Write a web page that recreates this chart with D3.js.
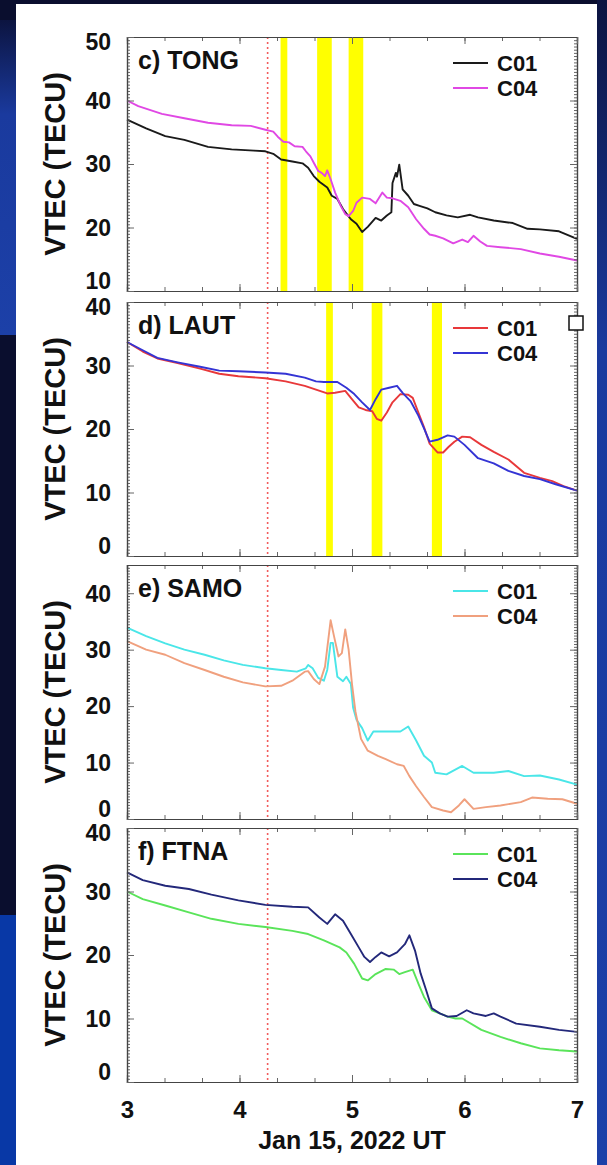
<!DOCTYPE html>
<html>
<head>
<meta charset="utf-8">
<script src="https://cdn.jsdelivr.net/npm/d3@7"></script>
<style>
  body { margin: 0; background: #0a0e2e; }
  svg { display: block; font-family: "Liberation Sans", Arial, Helvetica, sans-serif; font-weight: bold; }
</style>
</head>
<body>
<svg id="chart" width="607" height="1165"></svg>
<script>
// ---- data (hours UT on Jan 15 2022, VTEC in TECU) ----
const xTicks = [3, 4, 5, 6, 7];
const eventHour = 4.25;

const tongC01 = [[3.0,37.0],[3.17,35.6],[3.34,34.4],[3.51,33.8],[3.72,32.7],[3.93,32.3],[4.13,32.1],[4.23,32.0],[4.30,31.6],[4.37,30.7],[4.47,30.4],[4.56,30.1],[4.61,29.4],[4.66,28.1],[4.71,27.2],[4.78,26.3],[4.82,25.0],[4.87,24.5],[4.92,22.9],[4.99,21.3],[5.04,20.6],[5.09,19.3],[5.14,20.1],[5.21,21.5],[5.26,21.1],[5.31,21.9],[5.35,22.4],[5.36,27.0],[5.39,28.6],[5.40,28.0],[5.42,29.9],[5.45,26.0],[5.50,25.0],[5.55,23.7],[5.60,23.4],[5.67,23.0],[5.74,22.4],[5.84,21.9],[5.94,21.6],[6.05,22.0],[6.12,21.6],[6.26,21.1],[6.43,20.7],[6.56,19.8],[6.67,19.7],[6.84,19.4],[7.0,18.2]];
const tongC04 = [[3.0,40.0],[3.10,39.1],[3.31,37.9],[3.51,37.2],[3.72,36.5],[3.93,36.1],[4.10,36.0],[4.23,35.4],[4.30,35.1],[4.34,34.3],[4.39,33.5],[4.44,33.4],[4.49,32.8],[4.56,32.7],[4.59,32.0],[4.63,31.2],[4.66,30.2],[4.70,28.9],[4.73,28.6],[4.76,28.1],[4.78,29.0],[4.81,27.6],[4.85,25.5],[4.90,23.4],[4.94,22.1],[4.97,21.8],[5.01,22.6],[5.04,23.9],[5.09,24.7],[5.16,24.5],[5.21,23.8],[5.27,25.5],[5.31,24.7],[5.36,24.6],[5.43,24.2],[5.50,23.2],[5.57,21.3],[5.64,19.8],[5.69,18.9],[5.74,18.7],[5.81,18.3],[5.90,17.5],[5.98,18.1],[6.03,17.7],[6.08,18.7],[6.14,17.8],[6.20,17.1],[6.32,16.9],[6.50,16.6],[6.67,15.9],[6.84,15.4],[7.0,14.8]];

const lautC01 = [[3.0,33.7],[3.14,32.2],[3.27,31.1],[3.45,30.4],[3.65,29.5],[3.82,28.7],[3.99,28.3],[4.23,28.0],[4.41,27.5],[4.58,26.8],[4.68,26.2],[4.78,25.6],[4.85,25.7],[4.94,26.0],[4.99,24.9],[5.06,23.4],[5.12,23.0],[5.18,22.8],[5.22,21.6],[5.26,21.3],[5.31,22.6],[5.36,24.2],[5.43,25.5],[5.50,25.4],[5.54,24.9],[5.59,22.6],[5.64,20.3],[5.69,17.7],[5.76,16.3],[5.81,16.3],[5.86,17.2],[5.91,18.0],[5.98,18.8],[6.05,18.7],[6.15,17.5],[6.26,16.4],[6.39,15.2],[6.53,13.1],[6.67,12.3],[6.78,11.8],[6.88,11.0],[7.0,10.3]];
const lautC04 = [[3.0,33.7],[3.14,32.4],[3.27,31.2],[3.45,30.5],[3.65,29.8],[3.82,29.2],[3.99,29.1],[4.23,28.9],[4.41,28.7],[4.58,28.1],[4.68,27.5],[4.75,27.4],[4.87,27.4],[4.95,26.5],[5.02,25.5],[5.09,24.2],[5.16,23.0],[5.21,24.7],[5.26,26.2],[5.33,26.5],[5.40,26.8],[5.45,25.7],[5.52,24.4],[5.59,22.1],[5.64,20.1],[5.69,18.0],[5.76,18.3],[5.85,19.0],[5.91,18.8],[6.00,17.5],[6.12,15.4],[6.26,14.6],[6.39,13.4],[6.53,12.6],[6.67,12.1],[6.81,11.3],[7.0,10.3]];

const samoC01 = [[3.0,33.9],[3.17,32.4],[3.34,31.1],[3.51,30.0],[3.69,29.1],[3.86,28.1],[4.03,27.3],[4.23,26.7],[4.37,26.4],[4.51,26.1],[4.59,26.7],[4.61,27.3],[4.65,26.7],[4.70,25.0],[4.75,24.5],[4.78,26.4],[4.81,31.2],[4.83,31.2],[4.87,25.2],[4.92,24.4],[4.95,25.2],[4.99,23.9],[5.01,19.7],[5.04,17.6],[5.09,16.1],[5.14,13.9],[5.19,15.5],[5.30,15.5],[5.43,15.5],[5.50,16.4],[5.57,13.9],[5.64,11.2],[5.71,10.0],[5.74,8.2],[5.84,7.9],[5.98,9.4],[6.08,8.2],[6.26,8.2],[6.39,8.5],[6.53,7.6],[6.67,7.7],[6.84,7.0],[7.0,6.1]];
const samoC04 = [[3.0,31.5],[3.17,30.0],[3.34,29.1],[3.51,27.6],[3.69,26.4],[3.86,25.2],[4.03,24.2],[4.23,23.5],[4.37,23.6],[4.47,24.5],[4.58,26.1],[4.61,26.2],[4.66,24.8],[4.71,23.9],[4.76,27.0],[4.81,35.2],[4.84,32.4],[4.88,28.8],[4.91,29.4],[4.94,33.6],[4.97,30.0],[5.00,23.9],[5.03,19.1],[5.08,14.2],[5.14,12.1],[5.23,11.2],[5.30,10.6],[5.40,9.7],[5.46,9.4],[5.51,7.6],[5.57,5.8],[5.64,3.9],[5.71,2.1],[5.81,1.5],[5.88,1.2],[5.95,2.4],[6.00,3.5],[6.08,1.8],[6.19,2.1],[6.32,2.4],[6.50,3.0],[6.60,3.8],[6.74,3.6],[6.87,3.5],[7.0,2.7]];

const ftnaC01 = [[3.0,30.0],[3.14,28.8],[3.34,27.8],[3.55,26.7],[3.75,25.7],[3.99,24.9],[4.23,24.4],[4.47,23.8],[4.61,23.3],[4.75,22.3],[4.89,21.2],[4.95,20.4],[5.02,18.6],[5.09,16.3],[5.14,16.0],[5.21,17.0],[5.30,17.8],[5.37,17.7],[5.42,17.0],[5.47,17.3],[5.54,17.7],[5.59,15.5],[5.64,13.4],[5.71,11.3],[5.78,10.8],[5.85,10.3],[5.92,10.0],[5.98,10.0],[6.15,8.2],[6.32,7.1],[6.50,6.1],[6.67,5.3],[6.84,5.0],[7.0,4.8]];
const ftnaC04 = [[3.0,33.0],[3.14,31.8],[3.34,30.9],[3.55,30.4],[3.75,29.5],[3.99,28.6],[4.23,27.9],[4.47,27.6],[4.61,27.5],[4.71,25.9],[4.78,24.9],[4.85,26.4],[4.92,25.4],[4.99,23.3],[5.06,21.2],[5.11,19.7],[5.16,18.9],[5.21,19.7],[5.26,20.4],[5.33,19.8],[5.40,20.4],[5.47,21.7],[5.51,23.1],[5.56,20.7],[5.61,17.1],[5.66,14.4],[5.71,11.6],[5.78,10.8],[5.85,10.3],[5.93,10.4],[6.02,11.3],[6.08,10.8],[6.19,10.4],[6.26,10.8],[6.32,10.3],[6.46,9.2],[6.67,8.7],[6.84,8.2],[7.0,7.9]];

// shaded intervals (hours)
const tongBands = [[4.365, 4.425], [4.69, 4.82], [4.97, 5.10]];
const lautBands = [[4.77, 4.83], [5.175, 5.27], [5.71, 5.80]];

const panels = [
  { label: "c) TONG", yDomain: [10, 50], yTicks: [10, 20, 30, 40, 50], series: [tongC01, tongC04], colors: ["#1a1a1a", "#e048e4"], bands: tongBands },
  { label: "d) LAUT", yDomain: [0, 40], yTicks: [0, 10, 20, 30, 40], series: [lautC01, lautC04], colors: ["#e8383a", "#3434d4"], bands: lautBands },
  { label: "e) SAMO", yDomain: [0, 45], yTicks: [0, 10, 20, 30, 40], series: [samoC01, samoC04], colors: ["#4ae6e8", "#f0a07e"], bands: [] },
  { label: "f) FTNA", yDomain: [0, 40], yTicks: [0, 10, 20, 30, 40], series: [ftnaC01, ftnaC04], colors: ["#5ae45a", "#23287a"], bands: [] }
];
const legendNames = ["C01", "C04"];

// ---- layout ----
const svg = d3.select("#chart");
const left = 127, right = 577;
const panelTops = [37, 302, 565, 828], panelH = 254;

// slide background bits
const defs = svg.append("defs");
const g1 = defs.append("linearGradient").attr("id", "lg1").attr("x1", 0).attr("y1", 0).attr("x2", 0).attr("y2", 1);
g1.append("stop").attr("offset", "0%").attr("stop-color", "#0c1440");
g1.append("stop").attr("offset", "30%").attr("stop-color", "#1a3a9e");
g1.append("stop").attr("offset", "100%").attr("stop-color", "#1c40a8");
svg.append("rect").attr("x", 0).attr("y", 20).attr("width", 16).attr("height", 315).attr("fill", "url(#lg1)");
svg.append("rect").attr("x", 0).attr("y", 915).attr("width", 16).attr("height", 250).attr("fill", "#0838a6");
svg.append("rect").attr("x", 597).attr("y", 0).attr("width", 10).attr("height", 1165).attr("fill", "url(#lg1)");
svg.append("rect").attr("x", 16).attr("y", 4).attr("width", 581).attr("height", 1161).attr("fill", "#fff");

const x = d3.scaleLinear().domain([3, 7]).range([left, right]);
const xMinor = d3.range(3, 7.001, 1 / 3);

panels.forEach((p, i) => {
  const top = panelTops[i], bottom = top + panelH;
  const y = d3.scaleLinear().domain(p.yDomain).range([bottom, top]);
  const g = svg.append("g");

  // yellow intervals
  g.selectAll("rect.band").data(p.bands).enter().append("rect")
    .attr("x", d => x(d[0])).attr("width", d => x(d[1]) - x(d[0]))
    .attr("y", top).attr("height", panelH)
    .attr("fill", "#ffff00");

  // event time marker
  g.append("line")
    .attr("x1", x(eventHour)).attr("x2", x(eventHour))
    .attr("y1", top).attr("y2", bottom)
    .attr("stroke", "#f25c5c").attr("stroke-width", 1.6).attr("stroke-dasharray", "2,3");

  // series
  const line = d3.line().x(d => x(d[0])).y(d => y(d[1]));
  p.series.forEach((s, k) => {
    g.append("path").datum(s).attr("d", line)
      .attr("fill", "none").attr("stroke", p.colors[k]).attr("stroke-width", 1.9)
      .attr("stroke-linejoin", "round");
  });

  // axes: ticks point inward on all sides
  const yMinor = d3.range(p.yDomain[0], p.yDomain[1] + 0.001, 0.5);
  const axStyle = sel => sel.call(a => a.select(".domain").attr("stroke", "#444").attr("stroke-width", 1.2))
    .call(a => a.selectAll(".tick line").attr("stroke", "#666"));

  g.append("g").attr("transform", `translate(${left},0)`)
    .call(d3.axisLeft(y).tickValues(yMinor).tickSize(-3).tickFormat("")).call(axStyle);
  g.append("g").attr("transform", `translate(${right},0)`)
    .call(d3.axisRight(y).tickValues(yMinor).tickSize(-3).tickFormat("")).call(axStyle);
  g.append("g").attr("transform", `translate(${right},0)`)
    .call(d3.axisRight(y).tickValues(p.yTicks).tickSize(-7).tickFormat("")).call(axStyle);
  g.append("g").attr("transform", `translate(0,${top})`)
    .call(d3.axisTop(x).tickValues(xMinor).tickSize(-4).tickFormat("")).call(axStyle);
  g.append("g").attr("transform", `translate(0,${top})`)
    .call(d3.axisTop(x).tickValues(xTicks).tickSize(-7).tickFormat("")).call(axStyle);
  g.append("g").attr("transform", `translate(0,${bottom})`)
    .call(d3.axisBottom(x).tickValues(xMinor).tickSize(-4).tickFormat("")).call(axStyle);
  const xb = g.append("g").attr("transform", `translate(0,${bottom})`)
    .call(d3.axisBottom(x).tickValues(xTicks).tickSize(-7).tickPadding(19)
      .tickFormat(i === panels.length - 1 ? d3.format("d") : ""))
    .call(axStyle);
  xb.selectAll("text").attr("fill", "#111").style("font-size", "24px").style("font-weight", "bold");

  const yl = g.append("g").attr("transform", `translate(${left},0)`)
    .call(d3.axisLeft(y).tickValues(p.yTicks).tickSize(-7).tickPadding(16).tickFormat(d3.format("d")))
    .call(axStyle);
  yl.selectAll("text").attr("fill", "#111").style("font-size", "23px").style("font-weight", "bold")
    .attr("dy", d => d === p.yDomain[0] ? "-0.1em" : d === p.yDomain[1] ? "0.56em" : "0.34em");

  // panel label
  g.append("text").attr("x", 138).attr("y", top + 23).attr("dy", "0.35em")
    .attr("fill", "#111").style("font-size", "25px").text(p.label);

  // legend
  legendNames.forEach((n, k) => {
    const ly = top + 26 + k * 25;
    g.append("line").attr("x1", 453).attr("x2", 488).attr("y1", ly).attr("y2", ly)
      .attr("stroke", p.colors[k]).attr("stroke-width", 2);
    g.append("text").attr("x", 497).attr("y", ly).attr("dy", "0.36em")
      .attr("fill", "#111").style("font-size", "22px").text(n);
  });

  // y axis title
  g.append("text").attr("transform", `translate(55,${top + panelH / 2}) rotate(-90)`)
    .attr("text-anchor", "middle").attr("dy", "0.35em")
    .attr("fill", "#111").style("font-size", "29px").text("VTEC (TECU)");
});

// odd little box beside the LAUT legend
svg.append("rect").attr("x", 569).attr("y", 316).attr("width", 14).attr("height", 14)
  .attr("fill", "#fff").attr("stroke", "#111").attr("stroke-width", 1.5);

// x axis title
svg.append("text").attr("x", x(5)).attr("y", panelTops[3] + panelH + 67)
  .attr("text-anchor", "middle").attr("fill", "#111").style("font-size", "25px")
  .text("Jan 15, 2022 UT");
</script>
</body>
</html>
